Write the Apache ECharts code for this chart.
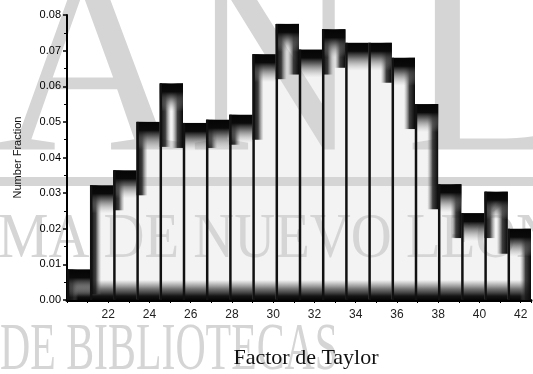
<!DOCTYPE html>
<html>
<head>
<meta charset="utf-8">
<script src="https://cdn.jsdelivr.net/npm/echarts@6/dist/echarts.min.js"></script>
<style>
  html, body { margin: 0; padding: 0; background: #fff; }
  #main { width: 533px; height: 374px; }
</style>
</head>
<body>
<div id="main"></div>
<script>
// histogram bins (the scan is squashed sideways, so bins are 0.1125 wide on the label scale)
var binStart = 2.0;
var binWidth = 0.1125;
var fractions = [0.0086, 0.0322, 0.0364, 0.0500, 0.0608, 0.0497, 0.0506, 0.0520, 0.0690, 0.0775,
                 0.0703, 0.0760, 0.0722, 0.0722, 0.0680, 0.0550, 0.0325, 0.0244, 0.0304, 0.0200];
var tickValues = [2.2, 2.4, 2.6, 2.8, 3.0, 3.2, 3.4, 3.6, 3.8, 4.0, 4.2];
var tickLabels = ['22', '24', '26', '28', '30', '32', '34', '36', '38', '40', '42'];

var chartDom = document.getElementById('main');
var myChart = echarts.init(chartDom);
var LG = echarts.graphic.LinearGradient;
var wm = '#d5d5d5';

var bins = fractions.map(function (v, i) {
    return [binStart + i * binWidth, binStart + (i + 1) * binWidth, v];
});

function renderBar(params, api) {
    var i = params.dataIndex;
    var v = api.value(2);
    var p0 = api.coord([api.value(0), 0]);
    var p1 = api.coord([api.value(1), v]);
    var left = p0[0], right = p1[0], top = p1[1], base = p0[1];
    var w = right - left, h = base - top;
    var prev = i > 0 ? fractions[i - 1] : 0;
    var next = i < fractions.length - 1 ? fractions[i + 1] : 0;
    var prevTop = api.coord([0, prev])[1];
    var nextTop = api.coord([0, next])[1];
    var kids = [];
    kids.push({ type: 'rect', shape: { x: left, y: top, width: w, height: h },
        style: { fill: 'rgba(215,215,215,0.3)' } });
    // bottom dark band
    kids.push({ type: 'rect', shape: { x: left, y: base - 20, width: w, height: 20 },
        style: { fill: new LG(0, 0, 0, 1, [
            { offset: 0, color: 'rgba(90,90,90,0)' },
            { offset: 0.45, color: 'rgba(70,70,70,0.75)' },
            { offset: 0.8, color: '#151515' },
            { offset: 1, color: '#050505' }]) } });
    // step shading on the left
    if (prev < v) {
        kids.push({ type: 'rect', shape: { x: left, y: top, width: 11, height: Math.min(h, prevTop - top + 25) },
            style: { fill: new LG(0, 0, 1, 0, [
                { offset: 0, color: '#0a0a0a' },
                { offset: 0.5, color: 'rgba(30,30,30,0.85)' },
                { offset: 1, color: 'rgba(120,120,120,0)' }]) } });
    }
    // step shading on the right
    if (next < v) {
        kids.push({ type: 'rect', shape: { x: right - 11, y: top, width: 11, height: Math.min(h, nextTop - top + 25) },
            style: { fill: new LG(1, 0, 0, 0, [
                { offset: 0, color: '#0a0a0a' },
                { offset: 0.5, color: 'rgba(30,30,30,0.85)' },
                { offset: 1, color: 'rgba(120,120,120,0)' }]) } });
    }
    // black cap with haze underneath
    kids.push({ type: 'rect', shape: { x: left, y: top, width: w, height: Math.min(28, h) },
        style: { fill: new LG(0, 0, 0, 1, [
            { offset: 0, color: '#050505' },
            { offset: 0.3, color: '#0a0a0a' },
            { offset: 0.5, color: 'rgba(60,60,60,0.8)' },
            { offset: 1, color: 'rgba(160,160,160,0)' }]) } });
    // separator line
    kids.push({ type: 'line', shape: { x1: left + 1, y1: top, x2: left + 1, y2: base },
        style: { stroke: '#111', lineWidth: 2.5 } });
    return { type: 'group', children: kids };
}

var option = {
    animation: false,
    backgroundColor: '#fff',
    grid: { left: 67, right: 2, top: 15, bottom: 71 },
    graphic: [
        { type: 'text', x: -5, y: 80, z: -10, style: { text: 'A', font: '265px "Liberation Serif"', fill: wm, verticalAlign: 'middle' } },
        { type: 'text', x: 188, y: 80, z: -10, scaleX: 0.9, style: { text: 'N', font: '265px "Liberation Serif"', fill: wm, verticalAlign: 'middle' } },
        { type: 'text', x: 405, y: 80, z: -10, style: { text: 'L', font: '265px "Liberation Serif"', fill: wm, verticalAlign: 'middle' } },
        { type: 'rect', z: -10, shape: { x: 0, y: 177, width: 533, height: 9 }, style: { fill: wm } },
        { type: 'text', x: -2, y: 240, z: -10, scaleX: 0.9, style: { text: 'MA DE NUEVO LEÓN', font: '63px "Liberation Serif"', fill: wm, verticalAlign: 'middle' } },
        { type: 'text', x: 0, y: 351, z: -10, scaleX: 0.615, style: { text: 'DE BIBLIOTECAS', font: '68px "Liberation Serif"', fill: wm, verticalAlign: 'middle' } }
    ],
    xAxis: {
        type: 'value',
        min: 2.0,
        max: 4.25,
        interval: 0.2,
        splitLine: { show: false },
        axisLine: { lineStyle: { color: '#000', width: 3 } },
        axisTick: { show: true, length: 3, lineStyle: { color: '#000' } },
        minorTick: { show: true, splitNumber: 2, length: 3, lineStyle: { color: '#000' } },
        axisLabel: {
            margin: 9,
            fontSize: 12,
            color: '#222',
            fontFamily: 'Liberation Sans',
            showMaxLabel: false,
            formatter: function (val) {
                for (var k = 0; k < tickValues.length; k++) {
                    if (Math.abs(val - tickValues[k]) < 1e-6) return tickLabels[k];
                }
                return '';
            }
        },
        name: 'Factor de Taylor',
        nameLocation: 'middle',
        nameGap: 47,
        nameTextStyle: { fontFamily: 'Liberation Serif', fontSize: 22, color: '#111', padding: [0, 0, 0, 14] }
    },
    yAxis: {
        type: 'value',
        min: 0,
        max: 0.08,
        interval: 0.01,
        splitLine: { show: false },
        axisLine: { show: true, lineStyle: { color: '#000', width: 2 } },
        axisTick: { show: true, length: 4, lineStyle: { color: '#000', width: 1.5 } },
        minorTick: { show: true, splitNumber: 2, length: 3, lineStyle: { color: '#000' } },
        axisLabel: {
            margin: 6,
            fontSize: 11,
            color: '#000',
            fontFamily: 'Liberation Sans',
            formatter: function (val) { return val.toFixed(2); }
        },
        name: 'Number Fraction',
        nameLocation: 'middle',
        nameGap: 44,
        nameTextStyle: { fontFamily: 'Liberation Sans', fontSize: 11, color: '#111' }
    },
    series: [
        {
            type: 'custom',
            renderItem: renderBar,
            encode: { x: [0, 1], y: 2 },
            data: bins
        }
    ]
};

option && myChart.setOption(option);
</script>
</body>
</html>
